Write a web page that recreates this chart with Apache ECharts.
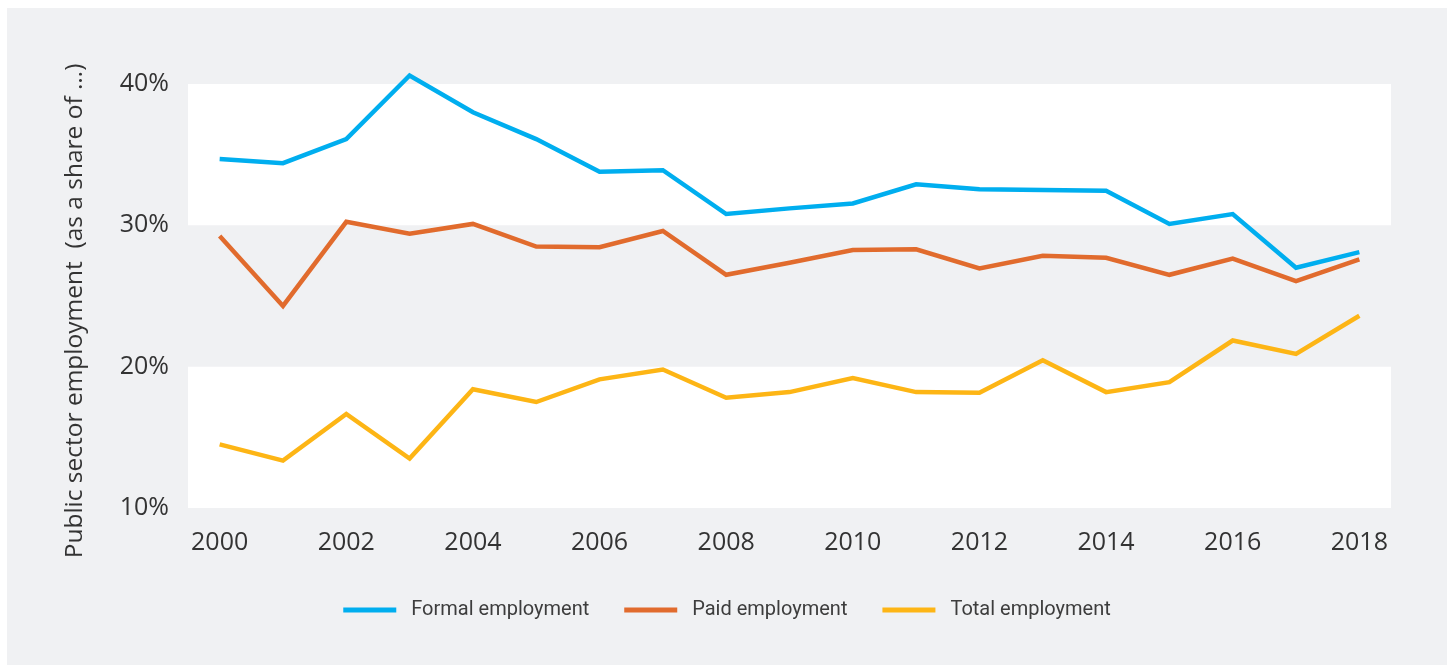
<!DOCTYPE html>
<html>
<head>
<meta charset="utf-8">
<title>Public sector employment</title>
<script src="https://cdn.jsdelivr.net/npm/echarts@6/dist/echarts.min.js"></script>
<style>
  html, body { margin: 0; padding: 0; background: #ffffff; }
  #chart { position: absolute; left: 7px; top: 8px; width: 1440px; height: 657px; background: #f0f1f3; }
</style>
</head>
<body>
<div id="chart"></div>
<script>
// Years on the horizontal axis
const years = ['2000','2001','2002','2003','2004','2005','2006','2007','2008','2009',
               '2010','2011','2012','2013','2014','2015','2016','2017','2018'];

// Public sector employment, % share
const formalEmployment = [34.7, 34.4, 36.1, 40.6, 38.0, 36.1, 33.8, 33.9, 30.8, 31.2,
                          31.55, 32.9, 32.55, 32.5, 32.45, 30.1, 30.8, 27.0, 28.1];
const paidEmployment   = [29.25, 24.3, 30.25, 29.4, 30.1, 28.5, 28.45, 29.6, 26.5, 27.35,
                          28.25, 28.3, 26.95, 27.85, 27.7, 26.5, 27.65, 26.05, 27.6];
const totalEmployment  = [14.5, 13.35, 16.65, 13.5, 18.4, 17.5, 19.1, 19.8, 17.8, 18.2,
                          19.2, 18.2, 18.15, 20.45, 18.2, 18.9, 21.85, 20.9, 23.6];

const seriesNames = ['Formal employment', 'Paid employment', 'Total employment'];
const seriesColors = ['#00aeef', '#e16b2d', '#fdb515'];
const yAxisTitle = 'Public sector employment  (as a share of …)';

const chart = echarts.init(document.getElementById('chart'), null, { renderer: 'canvas' });

const lineSeries = [formalEmployment, paidEmployment, totalEmployment].map((values, i) => ({
  name: seriesNames[i],
  type: 'line',
  data: values,
  symbol: 'none',
  smooth: false,
  clip: false,
  lineStyle: { width: 4.5, color: seriesColors[i], join: 'miter' },
  itemStyle: { color: seriesColors[i] },
  emphasis: { disabled: true }
}));

chart.setOption({
  animation: false,
  grid: { left: 181, top: 76, width: 1203, height: 424, containLabel: false },
  xAxis: {
    type: 'category',
    data: years,
    boundaryGap: true,
    axisLine: { show: false },
    axisTick: { show: false },
    axisLabel: {
      interval: 1,
      margin: 22,
      color: '#333333',
      fontFamily: 'Open Sans',
      fontSize: 25
    }
  },
  yAxis: {
    type: 'value',
    min: 10,
    max: 40,
    interval: 10,
    axisLine: { show: false },
    axisTick: { show: false },
    splitLine: { show: false },
    splitArea: { show: true, areaStyle: { color: ['#ffffff', 'rgba(0,0,0,0)'] } },
    axisLabel: {
      margin: 19,
      color: '#333333',
      fontFamily: 'Open Sans',
      fontSize: 25,
      formatter: '{value}%'
    }
  },
  legend: {
    data: seriesNames,
    left: 'center',
    top: 587,
    icon: 'rect',
    itemWidth: 53,
    itemHeight: 5,
    itemGap: 35,
    textStyle: {
      color: '#3d3d3d',
      fontFamily: 'Roboto',
      fontSize: 20,
      padding: [0, 0, 0, 10]
    }
  },
  graphic: [{
    type: 'text',
    x: 68,
    y: 303,
    rotation: Math.PI / 2,
    style: {
      text: yAxisTitle,
      fill: '#333333',
      fontFamily: 'Open Sans',
      fontSize: 24.5,
      align: 'center',
      verticalAlign: 'middle'
    }
  }],
  series: lineSeries
});
</script>
</body>
</html>
